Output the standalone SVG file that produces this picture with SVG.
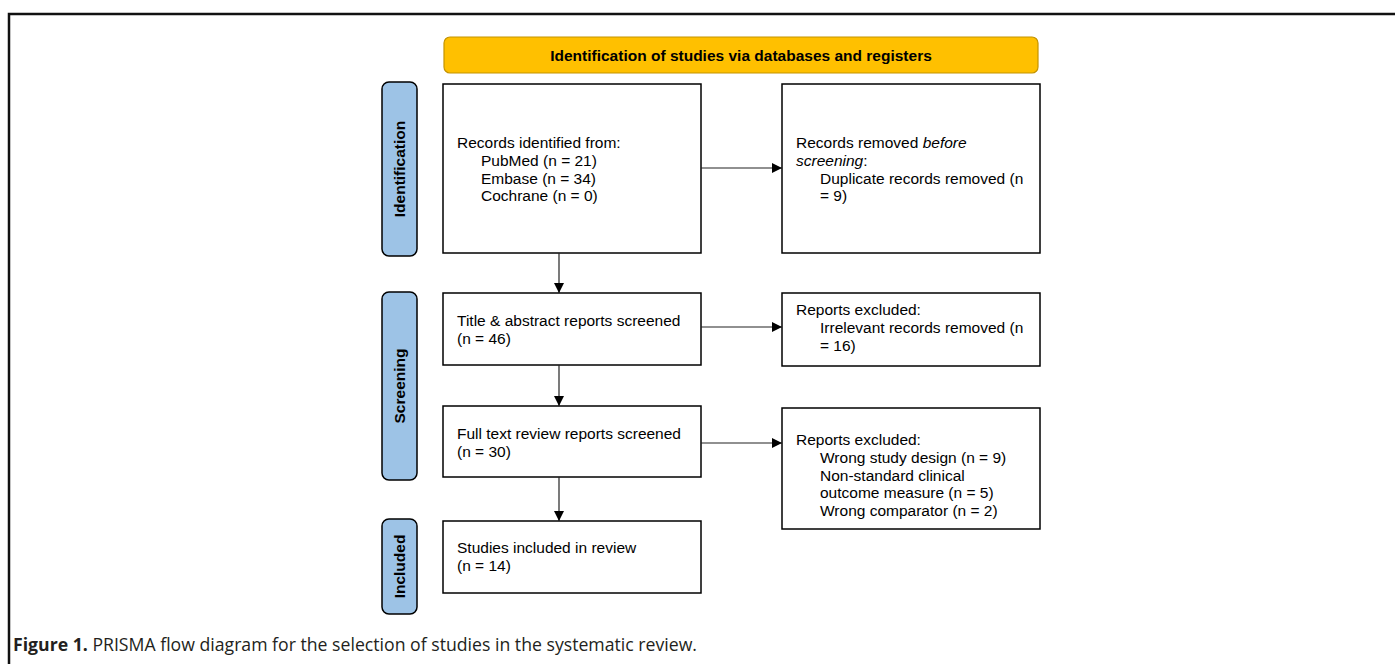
<svg xmlns="http://www.w3.org/2000/svg" width="1395" height="664" viewBox="0 0 1395 664">
<style>
.box{fill:#fff;stroke:#000;stroke-width:1.5}
.side{fill:#9DC3E6;stroke:#000;stroke-width:1.5}
.t{font-family:"Liberation Sans",Arial,sans-serif;font-size:15.5px;fill:#000}
.b{font-family:"Liberation Sans",Arial,sans-serif;font-size:15.5px;font-weight:bold;fill:#000}
.c{stroke:#222;stroke-width:1.2;fill:none;marker-end:url(#ah)}
</style>
<defs>
<marker id="ah" viewBox="0 0 10 10" refX="10" refY="5" markerWidth="10" markerHeight="10" markerUnits="userSpaceOnUse" orient="auto">
<path d="M0,0 L10,5 L0,10 z" fill="#000"/>
</marker>
</defs>
<rect width="1395" height="664" fill="#fff"/>
<path d="M9,664 V14 H1395" fill="none" stroke="#111" stroke-width="2.5"/>
<g id="header">
<rect x="444" y="37" width="594" height="36" rx="6" fill="#FFC000" stroke="#C49300" stroke-width="1.2"/>
<text class="b" x="741" y="61" text-anchor="middle">Identification of studies via databases and registers</text>
</g>
<g id="side-identification">
<rect class="side" x="382" y="82" width="35" height="174" rx="7"/>
<text class="b" transform="translate(404.5,169) rotate(-90)" text-anchor="middle">Identification</text>
</g>
<g id="side-screening">
<rect class="side" x="382" y="292" width="35" height="188" rx="7"/>
<text class="b" transform="translate(404.5,386) rotate(-90)" text-anchor="middle">Screening</text>
</g>
<g id="side-included">
<rect class="side" x="382" y="519" width="35" height="95" rx="7"/>
<text class="b" transform="translate(404.5,566.5) rotate(-90)" text-anchor="middle">Included</text>
</g>
<g id="records-identified">
<rect class="box" x="443" y="84" width="258" height="169"/>
<text class="t"><tspan x="457" y="148">Records identified from:</tspan><tspan x="481" y="166">PubMed (n = 21)</tspan><tspan x="481" y="183.5">Embase (n = 34)</tspan><tspan x="481" y="201">Cochrane (n = 0)</tspan></text>
</g>
<g id="records-removed">
<rect class="box" x="782" y="84" width="258" height="169"/>
<text class="t"><tspan x="796" y="148">Records removed <tspan font-style="italic">before</tspan></tspan><tspan x="796" y="166"><tspan font-style="italic">screening</tspan>:</tspan><tspan x="820" y="183.5">Duplicate records removed (n</tspan><tspan x="820" y="201">= 9)</tspan></text>
</g>
<g id="title-abstract">
<rect class="box" x="443" y="293" width="258" height="72"/>
<text class="t"><tspan x="457" y="326">Title &amp; abstract reports screened</tspan><tspan x="457" y="344">(n = 46)</tspan></text>
</g>
<g id="excluded-1">
<rect class="box" x="782" y="293" width="258" height="73"/>
<text class="t"><tspan x="796" y="315">Reports excluded:</tspan><tspan x="820" y="333">Irrelevant records removed (n</tspan><tspan x="820" y="350.5">= 16)</tspan></text>
</g>
<g id="full-text">
<rect class="box" x="443" y="406" width="258" height="71"/>
<text class="t"><tspan x="457" y="439">Full text review reports screened</tspan><tspan x="457" y="457">(n = 30)</tspan></text>
</g>
<g id="excluded-2">
<rect class="box" x="782" y="408" width="258" height="121"/>
<text class="t"><tspan x="796" y="445">Reports excluded:</tspan><tspan x="820" y="463">Wrong study design (n = 9)</tspan><tspan x="820" y="480.5">Non-standard clinical</tspan><tspan x="820" y="498">outcome measure (n = 5)</tspan><tspan x="820" y="515.5">Wrong comparator (n = 2)</tspan></text>
</g>
<g id="included">
<rect class="box" x="443" y="521" width="258" height="72"/>
<text class="t"><tspan x="457" y="553">Studies included in review</tspan><tspan x="457" y="571">(n = 14)</tspan></text>
</g>
<g id="connectors">
<line class="c" x1="701" y1="168" x2="782" y2="168"/>
<line class="c" x1="559" y1="253" x2="559" y2="293"/>
<line class="c" x1="701" y1="327" x2="782" y2="327"/>
<line class="c" x1="559" y1="365" x2="559" y2="406"/>
<line class="c" x1="701" y1="443" x2="782" y2="443"/>
<line class="c" x1="559" y1="477" x2="559" y2="521"/>
</g>
<g id="caption">
<text x="13" y="651" font-family="'Open Sans','Noto Sans',sans-serif" font-size="18" fill="#231f20" textLength="684" lengthAdjust="spacingAndGlyphs"><tspan font-weight="bold">Figure 1.</tspan> PRISMA flow diagram for the selection of studies in the systematic review.</text>
</g>
</svg>
